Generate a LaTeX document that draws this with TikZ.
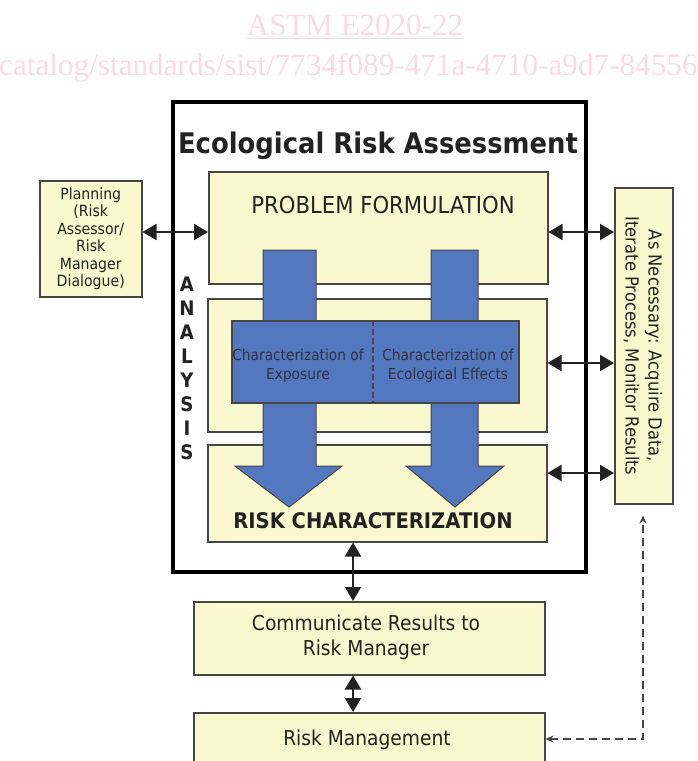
\documentclass[tikz,border=0pt]{standalone}
\usepackage{fontspec}
\usetikzlibrary{arrows.meta}
\newfontfamily\diafont[FakeStretch=0.91]{DejaVu Sans}
\newfontfamily\markfont{Liberation Serif}
\definecolor{boxfill}{RGB}{250,248,206}
\definecolor{boxline}{RGB}{70,70,70}
\definecolor{bluefill}{RGB}{84,120,192}
\definecolor{inktext}{RGB}{34,34,34}
\definecolor{charink}{RGB}{45,50,65}
\definecolor{marktext}{RGB}{250,218,228}
\newcommand\fsz[2]{\fontsize{#1}{#2}\selectfont}
\tikzset{
  ybox/.style={rectangle, draw=boxline, line width=1.5pt, fill=boxfill,
    inner sep=0pt, anchor=north west},
  lbl/.style={text=inktext, font=\diafont, inner sep=0pt},
  dbl/.style={draw=inktext, line width=2pt,
    {Triangle[length=14pt,width=16pt]}-{Triangle[length=14pt,width=16pt]}},
  bluearrow/.style={draw=boxline, line width=1pt, fill=bluefill},
  dashline/.style={draw=boxline, line width=1.3pt, dash pattern=on 8pt off 5pt,
    {Stealth[length=8pt,width=7pt]}-{Stealth[length=8pt,width=7pt]}},
}
\begin{document}
\begin{tikzpicture}[x=1pt,y=-1pt]
\useasboundingbox (0,0) rectangle (698,761);
\clip (0,0) rectangle (698,761);

% watermark lines
\node[font=\markfont\fsz{31}{31}, text=marktext, anchor=base, inner sep=0pt] (wm1) at (355,35) {ASTM E2020-22};
\draw[marktext, line width=1.6pt] ([yshift=-3.5pt]wm1.base west) -- ([yshift=-3.5pt]wm1.base east);
\node[font=\markfont\fsz{31.2}{31.2}, text=marktext, anchor=base west, inner sep=0pt] (wm2) at (-1,75)
  {catalog/standards/sist/7734f089-471a-4710-a9d7-84556};

% outer assessment frame
\node[rectangle, draw=black, line width=3.5pt, fill=white, inner sep=0pt, anchor=north west,
  minimum width=413pt, minimum height=470pt] (era) at (171,100) {};
\node[lbl, font=\diafont\bfseries\fsz{28.4}{34}, anchor=base] (title) at (378,153) {Ecological Risk Assessment};

% stage boxes
\node[ybox, minimum width=339pt, minimum height=112pt] (pf) at (208,171) {};
\node[ybox, minimum width=339pt, minimum height=133pt] (an) at (207,298) {};
\node[ybox, minimum width=339pt, minimum height=97pt] (rc) at (207,444) {};
\node[lbl, font=\diafont\fsz{23.3}{28}] (pftxt) at (383,205) {PROBLEM FORMULATION};

% side boxes
\node[ybox, minimum width=102pt, minimum height=116pt] (plan) at (39,180) {};
\node[lbl, align=center, font=\diafont\fsz{15.5}{17.4}] (plantxt) at (plan.center)
  {Planning\\(Risk\\Assessor/\\Risk\\Manager\\Dialogue)};
\node[ybox, minimum width=58pt, minimum height=316pt] (iter) at (614,187) {};
\node[lbl, rotate=-90, align=center, font=\diafont\fsz{18}{23}] (itertxt) at (643,346)
  {As Necessary: Acquire Data,\\Iterate Process, Monitor Results};

% lower boxes
\node[ybox, minimum width=351pt, minimum height=73pt] (comm) at (193,601) {};
\node[lbl, align=center, font=\diafont\fsz{20.5}{25}] (commtxt) at (366,637) {Communicate Results to\\Risk Manager};
\node[ybox, minimum width=351pt, minimum height=80pt] (rm) at (193,712) {};
\node[lbl, font=\diafont\fsz{20.5}{25}, anchor=base] (rmtxt) at (367,745) {Risk Management};

% broad flow arrows
\draw[bluearrow] (263,250) -- (316,250) -- (316,466) -- (342,466) -- (289,507) -- (235,466) -- (263,466) -- cycle;
\draw[bluearrow] (431,250) -- (478,250) -- (478,466) -- (504,466) -- (455,507) -- (406,466) -- (431,466) -- cycle;

% characterization panel
\node[rectangle, draw=boxline, line width=1.5pt, fill=bluefill, inner sep=0pt, anchor=north west,
  minimum width=287pt, minimum height=82pt] (chr) at (231,320) {};
\coordinate (dv) at (373,0);
\draw[boxline, line width=1.3pt, dash pattern=on 6pt off 3pt] (chr.north -| dv) -- (chr.south -| dv);
\node[lbl, text=charink, align=center, font=\diafont\fsz{15.1}{19}] (expo) at (298,366) {Characterization of\\Exposure};
\node[lbl, text=charink, align=center, font=\diafont\fsz{15.1}{19}] (effx) at (448,366) {Characterization of\\Ecological Effects};

\node[lbl, font=\diafont\bfseries\fsz{21.5}{26}, anchor=base] (rctxt) at (373,528) {RISK CHARACTERIZATION};

% vertical ANALYSIS label
\foreach \ch [count=\i from 0] in {A,N,A,L,Y,S,I,S}
  \node[lbl, font=\diafont\bfseries\fsz{20}{20}] (al\i) at (187,284.5+24*\i) {\ch};

% exchange arrows
\coordinate (r1) at (0,232);
\coordinate (r2) at (0,363);
\coordinate (r3) at (0,473);
\coordinate (c1) at (353,0);
\draw[dbl] (plan.east |- r1) -- (pf.west |- r1);
\draw[dbl] (pf.east |- r1) -- (iter.west |- r1);
\draw[dbl] (an.east |- r2) -- (iter.west |- r2);
\draw[dbl] (rc.east |- r3) -- (iter.west |- r3);
\draw[dbl] (rc.south -| c1) -- (comm.north -| c1);
\draw[dbl] (comm.south -| c1) -- (rm.north -| c1);

% feedback loop
\coordinate (dy) at (0,739);
\coordinate (d1) at (643,0);
\draw[dashline, shorten >=11pt] (rm.east |- dy) -| (iter.south -| d1);
\end{tikzpicture}
\end{document}
